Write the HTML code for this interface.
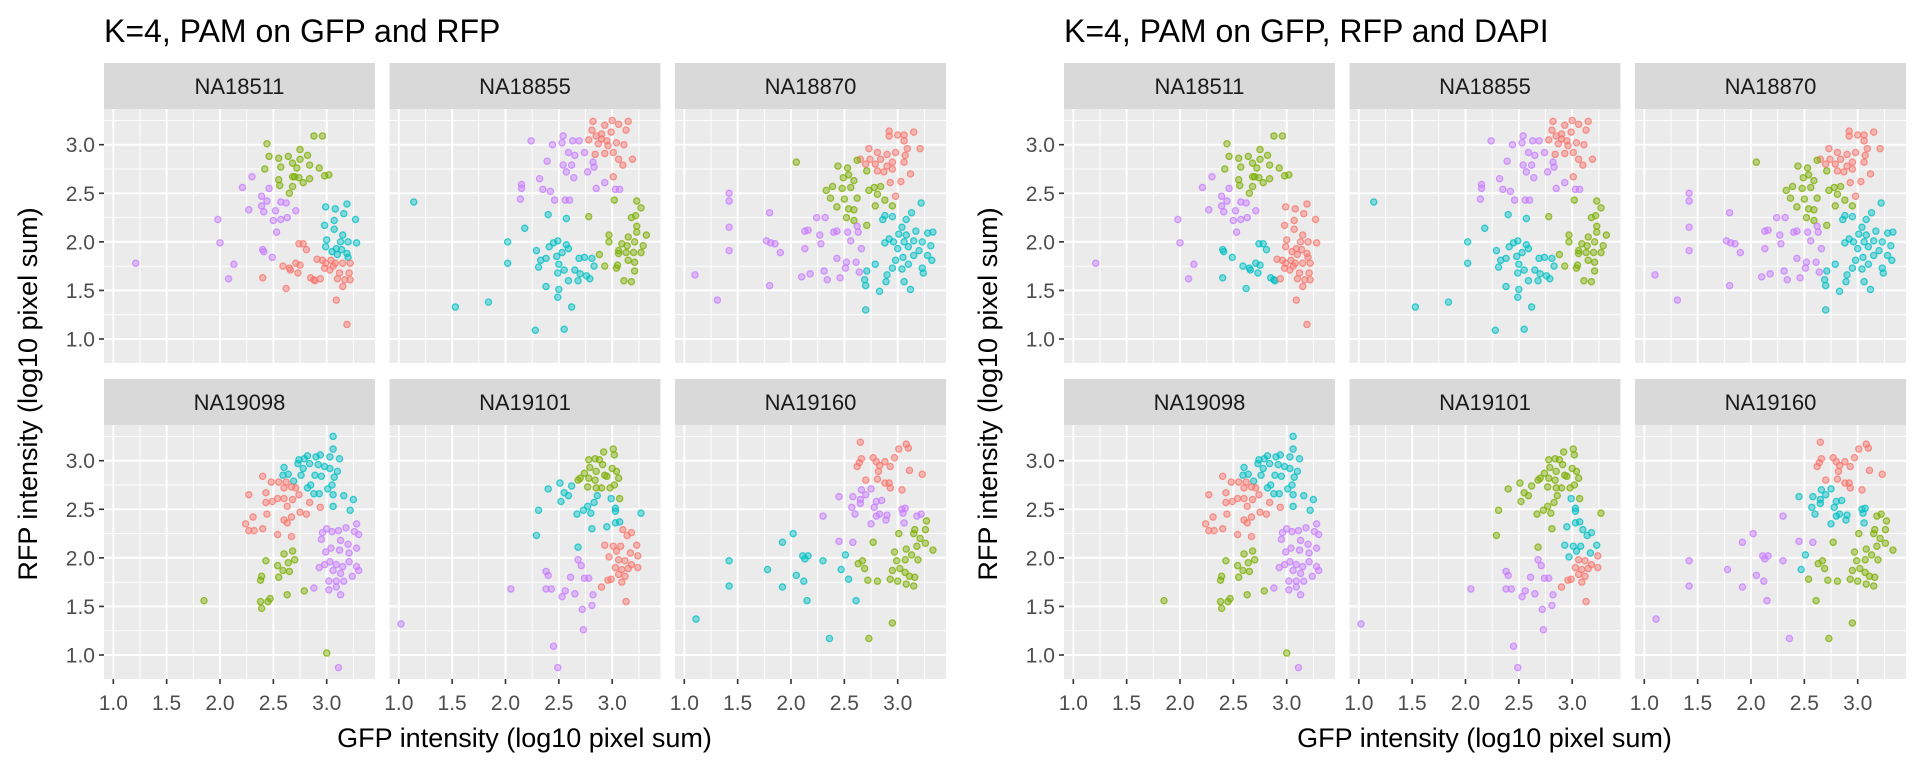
<!DOCTYPE html>
<html><head><meta charset="utf-8">
<style>
html,body{margin:0;padding:0;background:#fff;}
svg{display:block;font-family:"Liberation Sans",Arial,sans-serif;}
</style></head>
<body>
<svg id="chart" width="1920" height="768" viewBox="0 0 1920 768"></svg>
<script>
// Data: [GFP, RFP, cluster in left figure, cluster in right figure]
const categories = ['NA18511','NA18855','NA18870','NA19098','NA19101','NA19160'];
const figureTitles = ['K=4, PAM on GFP and RFP','K=4, PAM on GFP, RFP and DAPI'];
const xTicks = [1.0,1.5,2.0,2.5,3.0];
const yTicks = [1.0,1.5,2.0,2.5,3.0];
const xTickLabels = ['1.0','1.5','2.0','2.5','3.0'];
const yTickLabels = ['1.0','1.5','2.0','2.5','3.0'];

const NA18511 = [
[2.44,3.01,'G','G'],[2.46,2.88,'G','G'],[2.42,2.75,'G','G'],[2.55,2.86,'G','G'],[2.57,2.77,'G','G'],[2.64,2.88,'G','G'],[2.68,2.81,'G','G'],[2.72,2.76,'G','G'],[2.75,2.95,'G','G'],[2.75,2.85,'G','G'],[2.82,2.89,'G','G'],[2.84,2.79,'G','G'],[2.93,2.76,'G','G'],[2.88,3.09,'G','G'],[2.96,3.09,'G','G'],[2.98,2.68,'G','G'],[3.02,2.69,'G','G'],[2.70,2.67,'G','G'],[2.74,2.66,'G','G'],[2.78,2.61,'G','G'],[2.84,2.65,'G','G'],[2.55,2.64,'G','G'],[2.56,2.58,'G','G'],[2.68,2.57,'G','G'],[2.65,2.50,'G','G'],[2.68,2.67,'G','G'],
[2.30,2.67,'P','P'],[2.21,2.56,'P','P'],[2.46,2.55,'P','P'],[2.39,2.47,'P','P'],[2.44,2.42,'P','P'],[2.39,2.37,'P','P'],[2.41,2.31,'P','P'],[2.27,2.33,'P','P'],[2.57,2.41,'P','P'],[2.62,2.40,'P','P'],[2.71,2.32,'P','P'],[2.52,2.32,'P','P'],[2.63,2.25,'P','P'],[2.57,2.23,'P','P'],[2.50,2.22,'P','P'],[2.53,2.10,'P','P'],[1.98,2.23,'P','P'],[2.00,1.99,'P','P'],[2.40,1.92,'P','B'],[2.41,1.90,'P','B'],[2.49,1.84,'P','B'],[2.13,1.77,'P','P'],[2.08,1.62,'P','P'],[1.21,1.78,'P','P'],
[2.99,2.36,'B','R'],[3.08,2.34,'B','R'],[3.19,2.39,'B','R'],[2.98,2.17,'B','R'],[3.07,2.22,'B','R'],[3.07,2.13,'B','R'],[3.16,2.29,'B','R'],[3.27,2.23,'B','R'],[3.15,2.07,'B','R'],[3.00,2.02,'B','R'],[3.13,2.00,'B','R'],[3.20,2.00,'B','R'],[3.28,1.99,'B','R'],[2.99,1.95,'B','R'],[3.09,1.93,'B','R'],[3.05,1.90,'B','R'],[3.14,1.92,'B','R'],[3.19,1.88,'B','R'],[3.20,1.84,'B','R'],[3.10,1.87,'B','R'],
[2.74,1.98,'R','B'],[2.78,1.98,'R','B'],[2.81,1.92,'R','B'],[2.40,1.63,'R','B'],[2.59,1.75,'R','B'],[2.65,1.73,'R','B'],[2.66,1.71,'R','B'],[2.71,1.78,'R','B'],[2.75,1.76,'R','B'],[2.73,1.68,'R','B'],[2.62,1.52,'R','B'],[2.85,1.63,'R','B'],[2.88,1.61,'R','B'],[2.89,1.60,'R','B'],[2.94,1.62,'R','R'],[2.91,1.82,'R','R'],[2.96,1.81,'R','R'],[2.99,1.78,'R','R'],[2.98,1.73,'R','R'],[3.04,1.81,'R','R'],[3.03,1.71,'R','R'],[3.08,1.78,'R','R'],[3.12,1.68,'R','R'],[3.10,1.62,'R','R'],[3.15,1.78,'R','R'],[3.17,1.61,'R','R'],[3.22,1.78,'R','R'],[3.21,1.68,'R','R'],[3.22,1.61,'R','R'],[3.15,1.54,'R','R'],[3.09,1.40,'R','R'],[3.19,1.15,'R','R'],[3.06,1.75,'R','R']
];

const NA18855 = [
[2.82,3.24,'R','R'],[3.00,3.25,'R','R'],[3.15,3.24,'R','R'],[2.93,3.20,'R','R'],[3.06,3.21,'R','R'],[2.81,3.15,'R','R'],[3.13,3.15,'R','R'],[2.90,3.11,'R','R'],[2.99,3.13,'R','R'],[2.85,3.09,'R','R'],[2.78,3.05,'R','R'],[2.95,3.04,'R','R'],[2.87,3.01,'R','R'],[3.04,3.02,'R','R'],[3.11,3.00,'R','R'],[2.96,2.99,'R','R'],[2.84,2.90,'R','R'],[2.93,2.91,'R','R'],[3.01,2.92,'R','R'],[3.06,2.85,'R','R'],[3.10,2.79,'R','R'],[3.19,2.85,'R','R'],[3.01,2.67,'R','R'],[2.90,3.06,'R','R'],
[2.24,3.04,'P','P'],[2.44,3.00,'P','P'],[2.54,3.09,'P','P'],[2.53,3.02,'P','P'],[2.63,3.04,'P','P'],[2.69,3.04,'P','P'],[2.59,2.92,'P','P'],[2.65,2.89,'P','P'],[2.74,2.92,'P','P'],[2.39,2.83,'P','P'],[2.54,2.79,'P','P'],[2.62,2.79,'P','P'],[2.82,2.82,'P','P'],[2.83,2.77,'P','P'],[2.57,2.72,'P','P'],[2.77,2.72,'P','P'],[2.64,2.66,'P','P'],[2.32,2.65,'P','P'],[2.15,2.59,'P','P'],[2.15,2.55,'P','P'],[2.35,2.54,'P','P'],[2.42,2.52,'P','P'],[2.46,2.43,'P','P'],[2.56,2.43,'P','P'],[2.60,2.43,'P','P'],[2.14,2.44,'P','P'],[2.85,2.55,'P','P'],[2.93,2.61,'P','P'],[3.03,2.54,'P','P'],[3.07,2.54,'P','P'],
[1.14,2.41,'B','B'],[2.40,2.28,'B','B'],[2.57,2.24,'B','B'],[2.18,2.14,'B','B'],[2.02,2.00,'B','B'],[2.02,1.78,'B','B'],[2.29,1.91,'B','B'],[2.45,1.99,'B','B'],[2.49,2.01,'B','B'],[2.41,1.95,'B','B'],[2.57,1.97,'B','B'],[2.59,1.93,'B','B'],[2.53,1.89,'B','B'],[2.48,1.85,'B','B'],[2.33,1.81,'B','B'],[2.38,1.83,'B','B'],[2.31,1.74,'B','B'],[2.50,1.77,'B','B'],[2.55,1.71,'B','B'],[2.49,1.68,'B','B'],[2.65,1.71,'B','B'],[2.69,1.83,'B','B'],[2.74,1.84,'B','B'],[2.81,1.83,'B','B'],[2.83,1.75,'B','B'],[2.70,1.67,'B','B'],[2.76,1.65,'B','B'],[2.79,1.62,'B','B'],[2.68,1.60,'B','B'],[2.59,1.60,'B','B'],[2.38,1.54,'B','B'],[2.50,1.51,'B','B'],[2.49,1.43,'B','B'],[2.62,1.33,'B','B'],[1.84,1.38,'B','B'],[1.53,1.33,'B','B'],[2.28,1.09,'B','B'],[2.55,1.10,'B','B'],
[3.02,2.43,'G','G'],[3.23,2.42,'G','G'],[3.27,2.35,'G','G'],[2.78,2.26,'G','G'],[3.22,2.27,'G','G'],[3.18,2.25,'G','G'],[3.23,2.16,'G','G'],[2.97,2.07,'G','G'],[2.97,2.00,'G','G'],[3.32,2.07,'G','G'],[3.15,2.05,'G','G'],[3.23,2.10,'G','G'],[3.09,1.98,'G','G'],[3.14,1.96,'G','G'],[3.21,2.00,'G','G'],[3.29,1.96,'G','G'],[3.06,1.91,'G','G'],[3.13,1.89,'G','G'],[3.20,1.89,'G','G'],[3.27,1.89,'G','G'],[3.06,1.88,'G','G'],[3.15,1.81,'G','G'],[3.21,1.79,'G','G'],[2.88,1.87,'G','G'],[2.93,1.75,'G','G'],[3.05,1.76,'G','G'],[3.04,1.73,'G','G'],[3.21,1.70,'G','G'],[3.11,1.60,'G','G'],[3.18,1.59,'G','G']
];

const NA18870 = [
[2.92,3.14,'R','R'],[2.92,3.09,'R','R'],[3.00,3.10,'R','R'],[3.06,3.10,'R','R'],[3.15,3.13,'R','R'],[3.06,3.04,'R','R'],[3.21,2.96,'R','R'],[3.09,2.96,'R','R'],[2.73,2.96,'R','R'],[2.81,2.92,'R','R'],[2.90,2.90,'R','R'],[2.98,2.92,'R','R'],[3.07,2.89,'R','R'],[2.65,2.85,'R','R'],[2.74,2.85,'R','R'],[2.84,2.85,'R','R'],[2.95,2.82,'R','R'],[3.06,2.82,'R','R'],[2.70,2.80,'R','R'],[2.79,2.80,'R','R'],[2.90,2.78,'R','R'],[2.81,2.73,'R','R'],[2.87,2.72,'R','R'],[2.95,2.75,'R','R'],[3.12,2.70,'R','R'],[2.93,2.61,'R','R'],[3.03,2.62,'R','R'],[2.98,2.47,'R','R'],
[2.05,2.82,'G','G'],[2.44,2.78,'G','G'],[2.53,2.76,'G','G'],[2.62,2.84,'G','G'],[2.71,2.73,'G','G'],[2.49,2.66,'G','G'],[2.54,2.69,'G','G'],[2.59,2.63,'G','G'],[2.39,2.57,'G','G'],[2.33,2.53,'G','G'],[2.48,2.55,'G','G'],[2.56,2.56,'G','G'],[2.73,2.53,'G','G'],[2.78,2.56,'G','G'],[2.84,2.57,'G','G'],[2.37,2.45,'G','G'],[2.50,2.44,'G','G'],[2.62,2.45,'G','G'],[2.81,2.49,'G','G'],[2.88,2.43,'G','G'],[2.43,2.36,'G','G'],[2.54,2.34,'G','G'],[2.59,2.33,'G','G'],[2.79,2.37,'G','G'],[2.95,2.37,'G','G'],[2.52,2.25,'G','G'],[2.59,2.22,'G','G'],[2.71,2.17,'G','G'],
[3.22,2.40,'B','B'],[3.13,2.30,'B','B'],[2.88,2.27,'B','B'],[2.95,2.26,'B','B'],[2.86,2.23,'B','B'],[3.08,2.23,'B','B'],[3.04,2.15,'B','B'],[3.01,2.08,'B','B'],[3.08,2.07,'B','B'],[3.17,2.11,'B','B'],[3.28,2.09,'B','B'],[3.33,2.10,'B','B'],[2.92,2.03,'B','B'],[2.96,2.00,'B','B'],[3.06,2.00,'B','B'],[3.15,2.01,'B','B'],[3.23,2.00,'B','B'],[2.88,1.99,'B','B'],[3.31,1.96,'B','B'],[3.00,1.93,'B','B'],[3.10,1.95,'B','B'],[3.20,1.91,'B','B'],[3.28,1.86,'B','B'],[3.05,1.84,'B','B'],[3.15,1.86,'B','B'],[3.32,1.81,'B','B'],[2.98,1.81,'B','B'],[2.95,1.73,'B','B'],[3.10,1.77,'B','B'],[3.23,1.73,'B','B'],[2.79,1.77,'B','B'],[2.90,1.66,'B','B'],[2.71,1.70,'B','B'],[3.04,1.72,'B','B'],[3.24,1.68,'B','B'],[2.69,1.61,'B','B'],[2.70,1.55,'B','B'],[2.89,1.59,'B','B'],[3.06,1.59,'B','B'],[3.12,1.51,'B','B'],[2.83,1.49,'B','B'],[2.70,1.30,'B','B'],
[1.42,2.50,'P','P'],[1.42,2.42,'P','P'],[1.42,2.15,'P','P'],[1.42,1.91,'P','P'],[1.10,1.66,'P','P'],[1.31,1.40,'P','P'],[1.80,2.30,'P','P'],[1.77,2.01,'P','P'],[1.81,1.99,'P','P'],[1.85,1.98,'P','P'],[1.90,1.89,'P','P'],[1.80,1.55,'P','P'],[2.24,2.25,'P','P'],[2.32,2.25,'P','P'],[2.13,2.11,'P','P'],[2.16,2.12,'P','P'],[2.27,2.07,'P','P'],[2.28,1.98,'P','P'],[2.13,1.93,'P','P'],[2.40,2.10,'P','P'],[2.43,2.11,'P','P'],[2.53,2.10,'P','P'],[2.62,2.16,'P','P'],[2.63,2.10,'P','P'],[2.56,2.01,'P','P'],[2.66,1.93,'P','P'],[2.43,1.83,'P','P'],[2.52,1.79,'P','P'],[2.51,1.73,'P','P'],[2.61,1.79,'P','P'],[2.31,1.70,'P','P'],[2.18,1.67,'P','P'],[2.10,1.64,'P','P'],[2.34,1.61,'P','P'],[2.46,1.63,'P','P'],[2.64,1.69,'P','P']
];

const NA19098 = [
[3.06,3.25,'B','B'],[3.06,3.12,'B','B'],[3.12,3.02,'B','B'],[2.74,3.01,'B','B'],[2.79,3.02,'B','B'],[2.82,3.05,'B','B'],[2.90,3.04,'B','B'],[2.94,3.06,'B','B'],[3.03,3.04,'B','B'],[2.73,2.97,'B','B'],[2.78,2.92,'B','B'],[2.84,2.97,'B','B'],[2.92,2.96,'B','B'],[2.98,2.94,'B','B'],[3.03,2.92,'B','B'],[3.10,2.89,'B','B'],[2.60,2.93,'B','B'],[2.59,2.85,'B','B'],[2.64,2.86,'B','B'],[2.69,2.79,'B','B'],[2.76,2.85,'B','B'],[2.89,2.85,'B','B'],[2.95,2.84,'B','B'],[3.07,2.83,'B','B'],[2.85,2.75,'B','B'],[2.82,2.72,'B','B'],[3.05,2.75,'B','B'],[3.01,2.71,'B','B'],[2.88,2.66,'B','B'],[2.93,2.66,'B','B'],[3.06,2.65,'B','B'],[3.16,2.64,'B','B'],[3.25,2.60,'B','B'],[3.06,2.53,'B','B'],[3.22,2.49,'B','B'],
[2.40,2.84,'R','R'],[2.48,2.78,'R','R'],[2.55,2.78,'R','R'],[2.62,2.78,'R','R'],[2.60,2.72,'R','R'],[2.67,2.73,'R','R'],[2.71,2.72,'R','R'],[2.74,2.65,'R','R'],[2.27,2.65,'R','R'],[2.43,2.67,'R','R'],[2.43,2.57,'R','R'],[2.49,2.58,'R','R'],[2.54,2.61,'R','R'],[2.60,2.61,'R','R'],[2.68,2.60,'R','R'],[2.63,2.53,'R','R'],[2.84,2.57,'R','R'],[2.94,2.52,'R','R'],[2.44,2.45,'R','R'],[2.31,2.42,'R','R'],[2.24,2.35,'R','R'],[2.27,2.28,'R','R'],[2.32,2.28,'R','R'],[2.40,2.30,'R','R'],[2.60,2.39,'R','R'],[2.63,2.36,'R','R'],[2.67,2.42,'R','R'],[2.75,2.47,'R','R'],[2.81,2.45,'R','R'],[2.54,2.24,'R','R'],[2.67,2.22,'R','R'],
[2.60,2.04,'G','G'],[2.68,2.07,'G','G'],[2.70,1.98,'G','G'],[2.43,1.97,'G','G'],[2.54,1.92,'G','G'],[2.64,1.95,'G','G'],[2.59,1.87,'G','G'],[2.65,1.86,'G','G'],[2.55,1.80,'G','G'],[2.39,1.81,'G','G'],[2.38,1.77,'G','G'],[2.79,1.66,'G','G'],[2.63,1.62,'G','G'],[2.47,1.58,'G','G'],[2.45,1.55,'G','G'],[2.38,1.55,'G','G'],[2.39,1.48,'G','G'],[1.85,1.56,'G','G'],[3.00,1.02,'G','G'],
[3.28,2.35,'P','P'],[3.00,2.30,'P','P'],[3.05,2.27,'P','P'],[3.11,2.28,'P','P'],[3.18,2.31,'P','P'],[3.26,2.27,'P','P'],[3.30,2.24,'P','P'],[2.96,2.26,'P','P'],[2.95,2.19,'P','P'],[3.13,2.18,'P','P'],[3.20,2.14,'P','P'],[2.99,2.06,'P','P'],[3.04,2.10,'P','P'],[3.12,2.08,'P','P'],[3.21,2.05,'P','P'],[3.28,2.10,'P','P'],[2.93,1.90,'P','P'],[2.98,1.93,'P','P'],[3.03,1.96,'P','P'],[3.09,1.93,'P','P'],[3.15,1.91,'P','P'],[3.21,1.96,'P','P'],[3.28,1.91,'P','P'],[3.06,1.87,'P','P'],[3.13,1.84,'P','P'],[3.30,1.87,'P','P'],[3.24,1.81,'P','P'],[3.02,1.76,'P','P'],[3.09,1.76,'P','P'],[3.16,1.76,'P','P'],[3.02,1.67,'P','P'],[3.09,1.70,'P','P'],[3.13,1.62,'P','P'],[2.88,1.69,'P','P'],[3.11,0.87,'P','P']
];

const NA19101 = [
[2.92,3.09,'G','G'],[3.01,3.12,'G','G'],[3.02,3.06,'G','G'],[2.78,3.01,'G','G'],[2.84,3.02,'G','G'],[2.88,3.01,'G','G'],[2.91,2.96,'G','G'],[2.79,2.93,'G','G'],[2.74,2.87,'G','G'],[2.85,2.89,'G','G'],[2.93,2.85,'G','G'],[3.00,2.92,'G','G'],[3.04,2.89,'G','G'],[2.70,2.82,'G','G'],[2.78,2.82,'G','G'],[2.84,2.80,'G','G'],[2.95,2.84,'G','G'],[3.06,2.82,'G','G'],[2.77,2.73,'G','G'],[2.85,2.72,'G','G'],[2.90,2.72,'G','G'],[2.98,2.72,'G','G'],[3.02,2.75,'G','G'],[3.07,2.61,'G','G'],[2.68,2.80,'G','G'],
[2.40,2.71,'B','G'],[2.51,2.77,'B','G'],[2.62,2.74,'B','G'],[2.55,2.67,'B','G'],[2.59,2.64,'B','G'],[2.52,2.58,'B','G'],[2.86,2.64,'B','G'],[2.83,2.57,'B','G'],[2.77,2.53,'B','G'],[2.73,2.49,'B','G'],[2.67,2.45,'B','G'],[2.80,2.46,'B','G'],[2.99,2.61,'B','B'],[3.03,2.51,'B','B'],[3.03,2.48,'B','B'],[2.31,2.49,'B','G'],[3.27,2.46,'B','G'],[3.03,2.36,'B','B'],[3.07,2.37,'B','B'],[2.95,2.32,'B','B'],[2.81,2.30,'B','G'],[2.29,2.23,'B','G'],[2.68,2.11,'B','G'],
[3.10,2.29,'R','B'],[3.18,2.26,'R','B'],[3.14,2.23,'R','B'],[2.93,2.13,'R','B'],[3.01,2.12,'R','B'],[3.08,2.12,'R','B'],[3.23,2.13,'R','B'],[3.24,2.02,'R','R'],[2.97,2.01,'R','B'],[3.04,2.07,'R','B'],[3.17,2.05,'R','B'],[3.06,1.98,'R','R'],[3.12,1.97,'R','R'],[3.18,1.93,'R','R'],[3.24,1.90,'R','R'],[3.03,1.90,'R','R'],[3.09,1.88,'R','R'],[3.15,1.89,'R','R'],[3.06,1.83,'R','R'],[3.12,1.81,'R','R'],[2.99,1.78,'R','R'],[2.96,1.77,'R','R'],[3.09,1.75,'R','R'],[2.90,1.70,'R','R'],[3.13,1.55,'R','R'],
[2.68,1.98,'P','P'],[2.71,1.92,'P','P'],[2.38,1.86,'P','P'],[2.40,1.82,'P','P'],[2.61,1.80,'P','P'],[2.74,1.79,'P','P'],[2.78,1.79,'P','P'],[2.38,1.68,'P','P'],[2.43,1.68,'P','P'],[2.56,1.66,'P','P'],[2.65,1.63,'P','P'],[2.82,1.62,'P','P'],[2.53,1.60,'P','P'],[2.05,1.68,'P','P'],[2.72,1.47,'P','P'],[2.81,1.51,'P','P'],[2.73,1.26,'P','P'],[2.45,1.09,'P','P'],[2.49,0.87,'P','P'],[1.02,1.32,'P','P']
];

const NA19160 = [
[2.65,3.19,'R','R'],[2.66,3.02,'R','R'],[2.62,2.94,'R','R'],[2.64,2.98,'R','R'],[2.77,3.03,'R','R'],[2.80,2.99,'R','R'],[2.88,2.99,'R','R'],[2.97,3.03,'R','R'],[3.01,3.12,'R','R'],[3.08,3.17,'R','R'],[3.10,3.13,'R','R'],[2.83,2.95,'R','R'],[2.93,2.94,'R','R'],[2.82,2.89,'R','R'],[3.11,2.90,'R','R'],[3.23,2.86,'R','R'],[2.70,2.80,'R','R'],[2.81,2.81,'R','R'],[2.88,2.77,'R','R'],[2.92,2.77,'R','R'],[2.93,2.72,'R','R'],[3.04,2.70,'R','R'],
[2.45,2.63,'P','B'],[2.58,2.63,'P','B'],[2.66,2.70,'P','B'],[2.75,2.71,'P','B'],[2.65,2.60,'P','B'],[2.70,2.65,'P','B'],[2.57,2.52,'P','B'],[2.65,2.56,'P','B'],[2.80,2.58,'P','B'],[2.85,2.59,'P','B'],[2.78,2.52,'P','B'],[2.60,2.45,'P','B'],[2.83,2.45,'P','B'],[2.90,2.44,'P','B'],[2.80,2.43,'P','B'],[2.89,2.39,'P','B'],[2.75,2.35,'P','B'],[3.04,2.50,'P','B'],[3.07,2.51,'P','B'],[3.05,2.46,'P','B'],[3.18,2.43,'P','G'],[3.22,2.45,'P','G'],[3.06,2.36,'P','B'],[2.30,2.43,'P','P'],[2.45,2.17,'P','P'],[2.58,2.16,'P','P'],
[3.27,2.38,'G','G'],[3.16,2.29,'G','G'],[3.26,2.29,'G','G'],[3.01,2.25,'G','G'],[3.15,2.25,'G','G'],[2.77,2.16,'G','G'],[3.21,2.20,'G','G'],[3.26,2.15,'G','G'],[3.18,2.12,'G','G'],[3.33,2.08,'G','G'],[2.97,2.06,'G','G'],[3.08,2.09,'G','G'],[3.13,2.03,'G','G'],[3.19,1.98,'G','G'],[2.99,1.97,'G','G'],[3.07,1.98,'G','G'],[2.63,1.94,'G','G'],[2.67,1.97,'G','G'],[2.69,1.89,'G','G'],[2.95,1.87,'G','G'],[3.02,1.89,'G','G'],[3.07,1.85,'G','G'],[3.11,1.81,'G','G'],[3.16,1.80,'G','G'],[2.72,1.77,'G','G'],[2.81,1.76,'G','G'],[2.93,1.78,'G','G'],[3.00,1.76,'G','G'],[3.08,1.73,'G','G'],[3.15,1.71,'G','G'],[2.95,1.33,'G','G'],[2.73,1.17,'G','G'],
[2.02,2.25,'B','P'],[1.92,2.16,'B','P'],[2.11,2.02,'B','P'],[2.16,2.02,'B','P'],[2.13,1.99,'B','P'],[2.30,1.97,'B','P'],[2.51,2.03,'B','B'],[2.47,1.88,'B','B'],[2.54,1.78,'B','G'],[1.78,1.88,'B','P'],[1.42,1.97,'B','P'],[1.42,1.71,'B','P'],[2.05,1.82,'B','P'],[2.12,1.76,'B','P'],[1.92,1.70,'B','P'],[2.15,1.56,'B','P'],[2.61,1.56,'B','G'],[1.11,1.37,'B','P'],[2.36,1.17,'B','P']
];

const panelData = [NA18511, NA18855, NA18870, NA19098, NA19101, NA19160];
const clusterColors = {R:'#F8766D', G:'#7CAE00', B:'#00BFC4', P:'#C77CFF'};

const NS = 'http://www.w3.org/2000/svg';
const svg = document.getElementById('chart');
const colX = [104, 389.5, 675];
const rowY = [63, 379];
const stripH = 46, plotW = 271, plotH = 254;
const figOffsets = [0, 960];
function xScale(v){ return 9.3 + (v - 1) * 106.7; }
function yScale(v){ return 35.7 + (3 - v) * 97.15; }
function mk(tag, attrs, parent){
  const e = document.createElementNS(NS, tag);
  for (const k in attrs) e.setAttribute(k, attrs[k]);
  (parent || svg).appendChild(e);
  return e;
}

figOffsets.forEach((off, fi) => {
  const fig = mk('g', {});
  
  
  const t = mk('text', {x: 104 + off, y: 42, 'font-size': 32, fill: '#000'}, fig);
  t.textContent = figureTitles[fi];
  
  

  categories.forEach((cat, pi) => {
    const c = pi % 3, r = Math.floor(pi / 3);
    const px = colX[c] + off, sy = rowY[r], py = sy + stripH;
    const g = mk('g', {}, fig);
    
    
    const strip = mk('rect', {x: px, y: sy, width: plotW, height: stripH, fill: '#D9D9D9'}, g);
    
    
    const st = mk('text', {x: px + plotW / 2, y: sy + stripH / 2 + 8, 'font-size': 22, 'text-anchor': 'middle', fill: '#1A1A1A'}, g);
    st.textContent = cat;
    
    
    const bg = mk('rect', {x: px, y: py, width: plotW, height: plotH, fill: '#EBEBEB'}, g);
    
    
    // minor grid
    [1.25,1.75,2.25,2.75,3.25].forEach(v => {
      const xl = mk('line', {x1: px + xScale(v), x2: px + xScale(v), y1: py, y2: py + plotH, stroke: '#fff', 'stroke-width': 0.9}, g);
      
      
      const yl = mk('line', {x1: px, x2: px + plotW, y1: py + yScale(v), y2: py + yScale(v), stroke: '#fff', 'stroke-width': 0.9}, g);
      
      
    });
    xTicks.forEach(v => {
      const gl = mk('line', {x1: px + xScale(v), x2: px + xScale(v), y1: py, y2: py + plotH, stroke: '#fff', 'stroke-width': 1.9}, g);
      
      
    });
    yTicks.forEach(v => {
      const gl = mk('line', {x1: px, x2: px + plotW, y1: py + yScale(v), y2: py + yScale(v), stroke: '#fff', 'stroke-width': 1.9}, g);
      
      
    });
    // points
    panelData[pi].forEach(d => {
      const col = clusterColors[d[2 + fi]];
      const p = mk('circle', {cx: px + xScale(d[0]), cy: py + yScale(d[1]), r: 3.1, fill: col, 'fill-opacity': 0.45, stroke: col, 'stroke-opacity': 0.75, 'stroke-width': 1.3}, g);
      
      
    });
    // y axis on first column
    if (c === 0) {
      yTicks.forEach((v, i) => {
        const yy = py + yScale(v);
        const tk = mk('line', {x1: px - 5, x2: px, y1: yy, y2: yy, stroke: '#333', 'stroke-width': 1.6}, g);
        
        
        const tl = mk('text', {x: px - 9, y: yy + 7.5, 'font-size': 21, 'text-anchor': 'end', fill: '#4D4D4D'}, g);
        tl.textContent = yTickLabels[i];
        
        
      });
    }
    if (r === 1) {
      xTicks.forEach((v, i) => {
        const xx = px + xScale(v);
        const tk = mk('line', {x1: xx, x2: xx, y1: py + plotH, y2: py + plotH + 5, stroke: '#333', 'stroke-width': 1.6}, g);
        
        
        const tl = mk('text', {x: xx, y: py + plotH + 31, 'font-size': 21, 'text-anchor': 'middle', fill: '#4D4D4D'}, g);
        tl.textContent = xTickLabels[i];
        
        
      });
    }
  });
  const xt = mk('text', {x: 524.5 + off, y: 747, 'font-size': 27, 'text-anchor': 'middle', fill: '#000'}, fig);
  xt.textContent = 'GFP intensity (log10 pixel sum)';
  
  
  const yt = mk('text', {x: 0, y: 0, 'font-size': 27, 'text-anchor': 'middle', fill: '#000', transform: 'translate(' + (37 + off) + ',394) rotate(-90)'}, fig);
  yt.textContent = 'RFP intensity (log10 pixel sum)';
  
  
});
</script>
</body></html>
